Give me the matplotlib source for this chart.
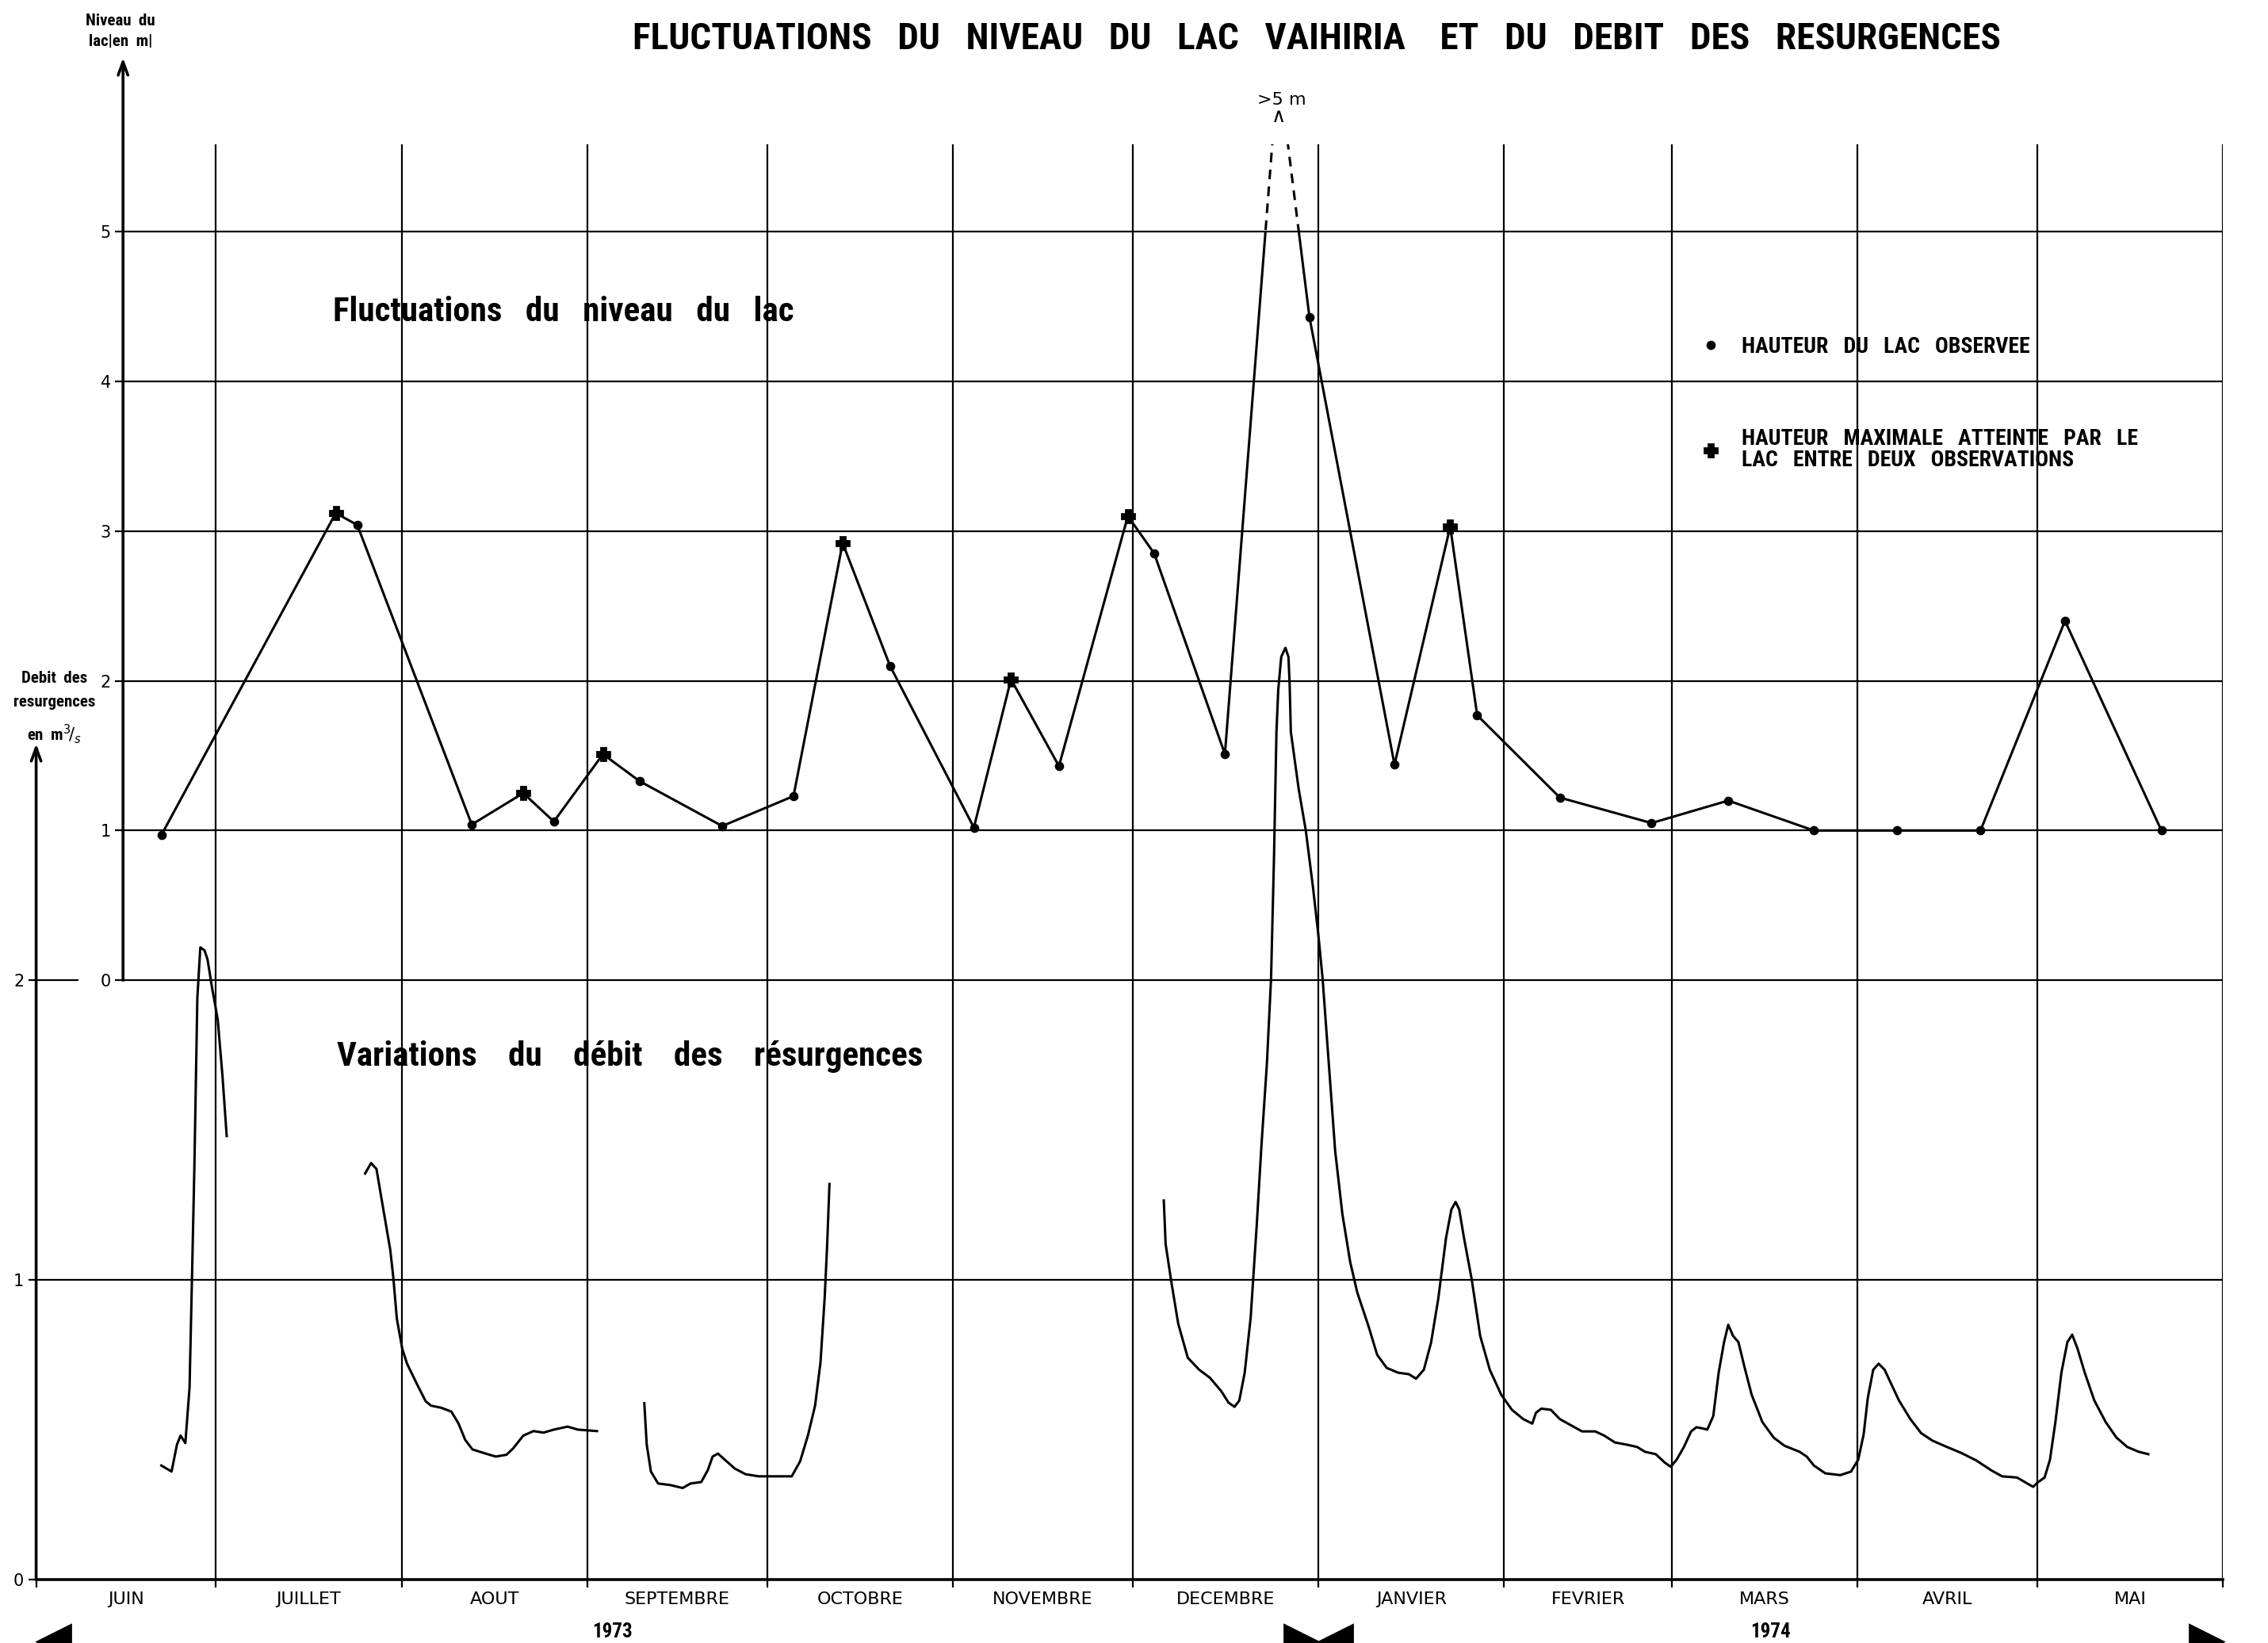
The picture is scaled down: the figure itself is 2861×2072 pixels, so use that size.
import numpy as np
import matplotlib
matplotlib.use('Agg')
import matplotlib.pyplot as plt
from matplotlib.patches import Rectangle
from matplotlib.lines import Line2D

# months from June 1973 to May 1974
months = ['JUIN', 'JUILLET', 'AOUT', 'SEPTEMBRE', 'OCTOBRE', 'NOVEMBRE',
          'DECEMBRE', 'JANVIER', 'FEVRIER', 'MARS', 'AVRIL', 'MAI']
month_days = [30, 31, 31, 30, 31, 30, 31, 31, 28, 31, 30, 31]
years = ['1973', '1974']

# lake level [m], day counted from 1 June 1973
# kind: 'o' observed height, '+' max height between two observations, '' = peak > 5 m
lake_day = [20.9, 50.0, 53.6, 72.7, 81.3, 86.4, 94.6, 100.7, 114.5, 126.4, 134.6, 142.5,
            156.5, 162.7, 170.7, 182.2, 186.6, 198.4, 207.3, 212.5, 226.7, 236.0, 240.5,
            254.3, 269.6, 282.4, 296.7, 310.6, 324.5, 338.6, 354.7]
lake_level = [0.97, 3.12, 3.04, 1.04, 1.25, 1.06, 1.51, 1.33, 1.03, 1.23, 2.92, 2.10,
              1.02, 2.01, 1.43, 3.10, 2.85, 1.51, 6.10, 4.43, 1.44, 3.03, 1.77,
              1.22, 1.05, 1.20, 1.00, 1.00, 1.00, 2.40, 1.00]
lake_kind = ['o', '+', 'o', 'o', '+', 'o', '+', 'o', 'o', 'o', '+', 'o',
             'o', '+', 'o', '+', 'o', 'o', '', 'o', 'o', '+', 'o',
             'o', 'o', 'o', 'o', 'o', 'o', 'o', 'o']

# discharge of the resurgences [m3/s], four recorded periods
q1_day = [20.9, 22.6, 23.5, 24.1, 24.9, 25.6, 26.0, 26.4, 26.9, 27.4, 28.1, 28.6, 29.4, 30.3, 31.1, 31.8]
q1 = [0.38, 0.36, 0.45, 0.48, 0.455, 0.64, 1.0, 1.37, 1.94, 2.11, 2.10, 2.07, 1.97, 1.87, 1.68, 1.48]

q2_day = [54.9, 55.9, 56.8, 57.9, 59.1, 59.6, 60.2, 61.1, 61.9, 63.6, 65.0, 65.9, 67.6, 69.3,
          70.5, 71.6, 72.8, 75.0, 76.7, 78.5, 79.6, 81.3, 83.0, 84.7, 86.4, 88.7, 90.4, 93.6]
q2 = [1.355, 1.39, 1.37, 1.24, 1.10, 1.01, 0.87, 0.77, 0.72, 0.65, 0.595, 0.58, 0.573, 0.56,
      0.52, 0.466, 0.434, 0.42, 0.41, 0.416, 0.437, 0.48, 0.495, 0.49, 0.50, 0.51, 0.50, 0.495]

q3_day = [101.5, 101.9, 102.6, 103.8, 105.8, 107.9, 109.2, 111.0, 112.1, 112.9, 113.8, 114.9,
          116.6, 118.4, 120.6, 124.1, 126.1, 127.5, 128.8, 130.0, 130.9, 131.6, 132.0, 132.4]
q3 = [0.588, 0.45, 0.36, 0.32, 0.315, 0.305, 0.32, 0.325, 0.365, 0.41, 0.42, 0.40,
      0.37, 0.351, 0.344, 0.344, 0.344, 0.394, 0.48, 0.58, 0.724, 0.94, 1.11, 1.32]

q4_day = [188.2, 188.5, 189.4, 190.6, 192.2, 194.1, 195.9, 197.8, 199.0, 200.0,
          200.8, 201.7, 202.7, 203.7, 204.5, 205.4, 206.1, 206.6, 207.0, 207.3,
          207.8, 208.5, 209.0, 209.2, 209.4, 210.7, 211.9, 213.1, 214.0, 214.7,
          215.6, 216.8, 218.0, 219.3, 220.5, 222.4, 223.8, 225.4, 227.3, 229.1,
          230.3, 231.6, 232.8, 234.0, 235.3, 236.2, 236.9, 237.5, 238.3, 239.6,
          241.0, 242.6, 244.5, 246.3, 248.2, 249.7, 250.3, 251.2, 252.8, 254.3,
          256.2, 258.0, 260.2, 261.7, 263.5, 265.4, 267.2, 268.5, 270.3, 271.8,
          272.8, 273.8, 275.0, 276.2, 277.1, 278.1, 278.9, 279.9, 280.8, 281.7,
          282.4, 283.2, 284.1, 285.1, 286.3, 288.1, 290.0, 291.8, 294.3, 295.5,
          296.7, 298.6, 301.1, 302.9, 304.1, 305.0, 305.7, 306.6, 307.5, 308.5,
          309.7, 310.9, 312.8, 314.6, 316.5, 318.9, 321.3, 323.8, 326.3, 328.1,
          330.6, 332.4, 333.3, 334.0, 335.2, 336.1, 337.0, 338.0, 339.0, 339.8,
          340.7, 341.9, 343.5, 345.4, 347.2, 349.0, 350.9, 352.5]
q4 = [1.265, 1.12, 1.0, 0.854, 0.74, 0.70, 0.673, 0.628, 0.59, 0.576,
      0.597, 0.69, 0.875, 1.18, 1.45, 1.72, 2.006, 2.42, 2.83, 2.97,
      3.08, 3.11, 3.08, 2.99, 2.83, 2.64, 2.50, 2.31, 2.15, 2.006,
      1.76, 1.43, 1.22, 1.06, 0.957, 0.843, 0.75, 0.706, 0.69, 0.685,
      0.67, 0.70, 0.79, 0.936, 1.14, 1.235, 1.26, 1.235, 1.14, 1.0,
      0.813, 0.70, 0.617, 0.566, 0.535, 0.52, 0.556, 0.57, 0.566, 0.535,
      0.514, 0.494, 0.494, 0.48, 0.457, 0.45, 0.442, 0.426, 0.418, 0.39,
      0.376, 0.40, 0.442, 0.494, 0.508, 0.504, 0.50, 0.545, 0.69, 0.792,
      0.85, 0.813, 0.792, 0.71, 0.617, 0.525, 0.473, 0.446, 0.426, 0.41,
      0.38, 0.354, 0.348, 0.36, 0.40, 0.484, 0.607, 0.70, 0.72, 0.70,
      0.648, 0.597, 0.535, 0.488, 0.463, 0.442, 0.422, 0.397, 0.364, 0.344,
      0.34, 0.319, 0.309, 0.323, 0.34, 0.40, 0.525, 0.69, 0.792, 0.817,
      0.77, 0.69, 0.597, 0.525, 0.473, 0.442, 0.426, 0.418]

lake_ticks = [0, 1, 2, 3, 4, 5]
q_ticks = [0, 1, 2]

# fonts
cond = ['Roboto Condensed', 'DejaVu Sans']
plain = ['DejaVu Sans']
plt.rcParams['font.family'] = plain

# scales: lake 0 m is at 2 m3/s, 1 m3/s takes the height of 2 m
lake_lim = (-4, 5.58)
q_lim = ((lake_lim[0] + 4) / 2, (lake_lim[1] + 4) / 2)
lake_axis_day = 14.5

bounds = np.concatenate([[0], np.cumsum(month_days)])
mids = (bounds[:-1] + bounds[1:]) / 2

fig = plt.figure(figsize=(14.305, 10.36), dpi=200)
ax = fig.add_axes([0.01594, 0.03873, 0.96429, 0.87324])
ax.set_xlim(bounds[0], bounds[-1])
ax.set_ylim(q_lim)
axl = ax.twinx()
axl.set_ylim(lake_lim)

lw_grid = 0.8
# grid
axl.hlines(lake_ticks, lake_axis_day, bounds[-1], color='k', lw=lw_grid)
ax.hlines(1, bounds[0], bounds[-1], color='k', lw=lw_grid)
ax.hlines(2, bounds[0], 7.0, color='k', lw=lw_grid)
ax.vlines(bounds[1:], q_lim[0], q_lim[1], color='k', lw=lw_grid)

# axes look
for s in ['left', 'top', 'right']:
    ax.spines[s].set_visible(False)
ax.spines['bottom'].set_linewidth(1.3)
for s in ['left', 'top', 'right', 'bottom']:
    axl.spines[s].set_visible(False)
axl.spines['left'].set_position(('data', lake_axis_day))
axl.yaxis.tick_left()

ax.set_xticks(bounds)
ax.set_xticklabels([])
ax.set_xticks(mids, minor=True)
ax.set_xticklabels(months, minor=True)
ax.tick_params(axis='x', which='major', direction='out', length=3.5, width=0.8)
ax.tick_params(axis='x', which='minor', length=0, pad=5.5, labelsize=8)
ax.set_yticks(q_ticks)
ax.tick_params(axis='y', direction='out', length=3.5, width=0.8, labelsize=7.5, pad=2)
axl.set_yticks(lake_ticks)
axl.tick_params(axis='y', direction='out', length=3.5, width=0.8, labelsize=7.5, pad=2)

arrow = dict(arrowstyle='->,head_length=0.6,head_width=0.22', lw=1.3, color='k', shrinkA=0, shrinkB=0)
ax.annotate('', xy=(0, 2.79), xytext=(0, q_lim[0]), arrowprops=arrow, annotation_clip=False)
axl.annotate('', xy=(lake_axis_day, 6.16), xytext=(lake_axis_day, 0), arrowprops=arrow,
             annotation_clip=False)

# lake level: solid up to 5 m, dashed above
line, = axl.plot(lake_day, lake_level, color='k', lw=1.1)
line.set_clip_path(Rectangle((0, -5), 400, 10, transform=axl.transData))
ip = lake_kind.index('')
dash, = axl.plot(lake_day[ip - 1:ip + 2], lake_level[ip - 1:ip + 2], color='k', lw=1.1, ls=(0, (4, 3)))
dash.set_clip_path(Rectangle((0, 5), 400, lake_lim[1] - 5, transform=axl.transData))
obs = [k == 'o' for k in lake_kind]
mx = [k == '+' for k in lake_kind]
axl.plot(np.array(lake_day)[obs], np.array(lake_level)[obs], 'o', color='k', ms=3.2)
axl.plot(np.array(lake_day)[mx], np.array(lake_level)[mx], 'P', color='k', ms=5.5)
axl.text(lake_day[ip] + 0.6, 5.88, '>5 m', ha='center', va='center', fontsize=8)
axl.text(lake_day[ip], 5.77, '\u2227', ha='center', va='center', fontsize=9)

# discharge
for d, q in [(q1_day, q1), (q2_day, q2), (q3_day, q3), (q4_day, q4)]:
    ax.plot(d, q, color='k', lw=1.1, solid_joinstyle='round')

# years under the months
ax.text(96.2, -0.175, years[0], ha='center', va='center', fontsize=9, fontweight='bold', family=cond)
ax.text((bounds[7] + bounds[-1]) / 2, -0.175, years[1], ha='center', va='center', fontsize=9,
        fontweight='bold', family=cond)
off = 2.9
ax.plot([bounds[0] + off, bounds[7] + off], [-0.208, -0.208], '<', color='k', ms=15, clip_on=False)
ax.plot([bounds[7] - off, bounds[-1] - off], [-0.208, -0.208], '>', color='k', ms=15, clip_on=False)

# titles and labels
fig.text(0.5805, 0.9762, 'FLUCTUATIONS   DU   NIVEAU   DU   LAC   VAIHIRIA    ET   DU   DEBIT   DES   RESURGENCES',
         ha='center', va='center', fontsize=17, fontweight='bold', family=cond)
axl.text(49.5, 4.40, 'Fluctuations   du   niveau   du   lac', ha='left', va='baseline',
         fontsize=15.5, fontweight='bold', family=cond)
ax.text(50.2, 1.744, 'Variations    du    d\u00e9bit    des    r\u00e9surgences', ha='left', va='center',
        fontsize=15.5, fontweight='bold', family=cond)
fig.text(0.0531, 0.981, 'Niveau  du\nlac|en  m|', ha='center', va='center', fontsize=7.5,
         fontweight='bold', family=cond, linespacing=1.45)
fig.text(0.024, 0.569, 'Debit  des\nresurgences\nen  m$^{3}\\!/_{s}$', ha='center', va='center',
         fontsize=7.5, fontweight='bold', family=cond, linespacing=1.75)

handles = [Line2D([], [], ls='', marker='o', color='k', ms=3.2),
           Line2D([], [], ls='', marker='P', color='k', ms=5.5)]
leg = axl.legend(handles, ['HAUTEUR   DU   LAC   OBSERVEE',
                           'HAUTEUR   MAXIMALE   ATTEINTE   PAR   LE\nLAC   ENTRE   DEUX   OBSERVATIONS'],
                 loc='upper left', bbox_to_anchor=(0.7606, 0.8665), frameon=False, borderpad=0,
                 borderaxespad=0, handlelength=1.0, handletextpad=0.9, labelspacing=3.2,
                 prop={'family': cond, 'weight': 'bold', 'size': 10})
for t in leg.get_texts():
    t.set_linespacing(1.0)

fig.savefig('out.png', dpi=200)
